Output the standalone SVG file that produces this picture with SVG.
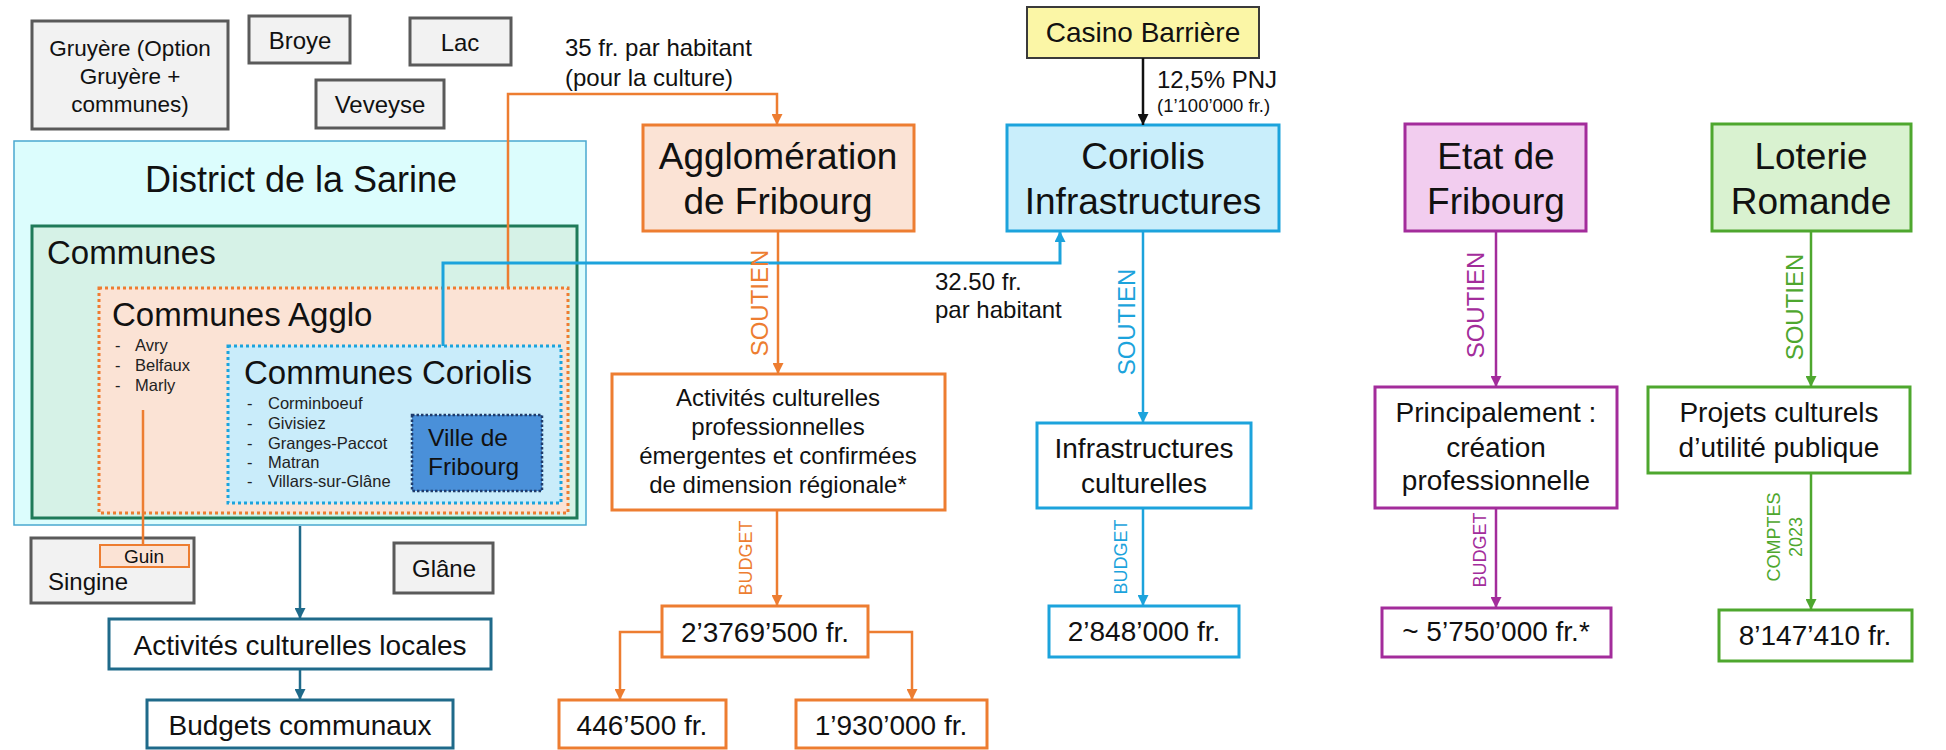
<svg xmlns="http://www.w3.org/2000/svg" width="1946" height="750" viewBox="0 0 1946 750">
<style>
text{font-family:"Liberation Sans",Arial,sans-serif;fill:#111}
.g{fill:#f2f2f2;stroke:#5a5a5a;stroke-width:3}
.c{text-anchor:middle}
.f24{font-size:24px}
.f28{font-size:28px}
.f37{font-size:37px}
.lst{font-size:16.5px;fill:#222}
.lbl{font-size:24px;text-anchor:middle}
.sm{font-size:18px;text-anchor:middle}
.or{fill:#ed7d31}.bl{fill:#1ca3dc}.pu{fill:#a32c9b}.gr{fill:#4ea72e}
.con path{fill:none}
</style>
<defs>
<marker id="aO" viewBox="0 0 10 10" refX="10" refY="5" markerWidth="11" markerHeight="11" markerUnits="userSpaceOnUse" orient="auto"><path d="M0,0L10,5L0,10z" fill="#ed7d31"/></marker>
<marker id="aB" viewBox="0 0 10 10" refX="10" refY="5" markerWidth="11" markerHeight="11" markerUnits="userSpaceOnUse" orient="auto"><path d="M0,0L10,5L0,10z" fill="#1ca3dc"/></marker>
<marker id="aT" viewBox="0 0 10 10" refX="10" refY="5" markerWidth="11" markerHeight="11" markerUnits="userSpaceOnUse" orient="auto"><path d="M0,0L10,5L0,10z" fill="#1f6a8a"/></marker>
<marker id="aK" viewBox="0 0 10 10" refX="10" refY="5" markerWidth="11" markerHeight="11" markerUnits="userSpaceOnUse" orient="auto"><path d="M0,0L10,5L0,10z" fill="#111"/></marker>
<marker id="aP" viewBox="0 0 10 10" refX="10" refY="5" markerWidth="11" markerHeight="11" markerUnits="userSpaceOnUse" orient="auto"><path d="M0,0L10,5L0,10z" fill="#a32c9b"/></marker>
<marker id="aG" viewBox="0 0 10 10" refX="10" refY="5" markerWidth="11" markerHeight="11" markerUnits="userSpaceOnUse" orient="auto"><path d="M0,0L10,5L0,10z" fill="#4ea72e"/></marker>
</defs>

<g id="gruyere"><rect class="g" x="32" y="21" width="196" height="108"/>
<text class="c" style="font-size:22.5px" x="130"><tspan x="130" y="56">Gruyère (Option</tspan><tspan x="130" y="84">Gruyère +</tspan><tspan x="130" y="112">communes)</tspan></text></g>
<g id="broye"><rect class="g" x="249" y="16" width="101" height="47"/><text class="c f24" x="300" y="49">Broye</text></g>
<g id="lac"><rect class="g" x="410" y="18" width="101" height="47"/><text class="c f24" x="460" y="51">Lac</text></g>
<g id="veveyse"><rect class="g" x="316" y="80" width="128" height="48"/><text class="c f24" x="380" y="113">Veveyse</text></g>

<g id="district"><rect x="14" y="141" width="572" height="384" fill="#dcfdfd" stroke="#4aa8cf" stroke-width="1.5"/>
<text class="c" style="font-size:36px" x="301" y="192">District de la Sarine</text></g>
<g id="communes"><rect x="32" y="226" width="545" height="292" fill="#d6f2e7" stroke="#1f7a59" stroke-width="3"/>
<text style="font-size:33px" x="47" y="264">Communes</text></g>
<g id="agglo-communes"><rect x="99" y="288" width="469" height="225" fill="#fbe3d5" stroke="#ed7d31" stroke-width="3" stroke-dasharray="3 3"/>
<text style="font-size:33px" x="112" y="326">Communes Agglo</text>
<text class="lst"><tspan x="115" y="351">-</tspan><tspan x="135" y="351">Avry</tspan><tspan x="115" y="371">-</tspan><tspan x="135" y="371">Belfaux</tspan><tspan x="115" y="391">-</tspan><tspan x="135" y="391">Marly</tspan></text></g>
<g id="coriolis-communes"><rect x="228" y="346" width="333" height="157" fill="#c9ecfa" stroke="#1ca3dc" stroke-width="3" stroke-dasharray="3 3"/>
<text style="font-size:33px" x="244" y="384">Communes Coriolis</text>
<text class="lst"><tspan x="247" y="409">-</tspan><tspan x="268" y="409">Corminboeuf</tspan><tspan x="247" y="429">-</tspan><tspan x="268" y="429">Givisiez</tspan><tspan x="247" y="449">-</tspan><tspan x="268" y="449">Granges-Paccot</tspan><tspan x="247" y="468">-</tspan><tspan x="268" y="468">Matran</tspan><tspan x="247" y="487">-</tspan><tspan x="268" y="487">Villars-sur-Glâne</tspan></text></g>
<g id="ville"><rect x="412" y="415" width="130" height="76" fill="#4a90d9" stroke="#1f3b6b" stroke-width="2.5" stroke-dasharray="2.5 2"/>
<text style="font-size:24.5px"><tspan x="428" y="446">Ville de</tspan><tspan x="428" y="475">Fribourg</tspan></text></g>

<g id="singine"><rect class="g" x="31" y="538" width="163" height="65"/><text class="f24" x="48" y="590">Singine</text></g>
<g id="guin"><rect x="100" y="545" width="89" height="22" fill="#fbe3d5" stroke="#ed7d31" stroke-width="2"/><text class="c" style="font-size:19px" x="144" y="563">Guin</text></g>
<g id="glane"><rect class="g" x="394" y="543" width="99" height="50"/><text class="c f24" x="444" y="577">Glâne</text></g>

<g id="act-locales"><rect x="109" y="619" width="382" height="50" fill="#fff" stroke="#1f6a8a" stroke-width="3"/><text class="c f28" x="300" y="655">Activités culturelles locales</text></g>
<g id="budgets-communaux"><rect x="147" y="700" width="306" height="48" fill="#fff" stroke="#1f6a8a" stroke-width="3"/><text class="c f28" x="300" y="735">Budgets communaux</text></g>

<g id="agglo"><rect x="643" y="125" width="271" height="106" fill="#fbe3d5" stroke="#ed7d31" stroke-width="3"/>
<text class="c f37"><tspan x="778" y="169">Agglomération</tspan><tspan x="778" y="214">de Fribourg</tspan></text></g>
<g id="act-pro"><rect x="612" y="374" width="333" height="136" fill="#fff" stroke="#ed7d31" stroke-width="3"/>
<text class="c f24"><tspan x="778" y="406">Activités culturelles</tspan><tspan x="778" y="435">professionnelles</tspan><tspan x="778" y="464">émergentes et confirmées</tspan><tspan x="778" y="493">de dimension régionale*</tspan></text></g>
<g id="budget-agglo"><rect x="662" y="606" width="206" height="51" fill="#fff" stroke="#ed7d31" stroke-width="3"/><text class="c f28" x="765" y="642">2’3769’500 fr.</text></g>
<g id="b446"><rect x="559" y="700" width="167" height="48" fill="#fff" stroke="#ed7d31" stroke-width="3"/><text class="c f28" x="642" y="735">446’500 fr.</text></g>
<g id="b1930"><rect x="796" y="700" width="191" height="48" fill="#fff" stroke="#ed7d31" stroke-width="3"/><text class="c f28" x="891" y="735">1’930’000 fr.</text></g>

<g id="casino"><rect x="1027" y="7" width="232" height="51" fill="#fbf6a6" stroke="#3a3a3a" stroke-width="2"/><text class="c f28" x="1143" y="42">Casino Barrière</text></g>
<g id="coriolis"><rect x="1007" y="125" width="272" height="106" fill="#c9eefb" stroke="#1ca3dc" stroke-width="3"/>
<text class="c f37"><tspan x="1143" y="169">Coriolis</tspan><tspan x="1143" y="214">Infrastructures</tspan></text></g>
<g id="infra"><rect x="1037" y="423" width="214" height="85" fill="#fff" stroke="#1ca3dc" stroke-width="3"/>
<text class="c f28"><tspan x="1144" y="458">Infrastructures</tspan><tspan x="1144" y="493">culturelles</tspan></text></g>
<g id="b2848"><rect x="1049" y="606" width="190" height="51" fill="#fff" stroke="#1ca3dc" stroke-width="3"/><text class="c f28" x="1144" y="641">2’848’000 fr.</text></g>

<g id="etat"><rect x="1405" y="124" width="181" height="107" fill="#f2cdef" stroke="#a32c9b" stroke-width="3"/>
<text class="c f37"><tspan x="1496" y="169">Etat de</tspan><tspan x="1496" y="214">Fribourg</tspan></text></g>
<g id="principalement"><rect x="1375" y="387" width="242" height="121" fill="#fff" stroke="#a32c9b" stroke-width="3"/>
<text class="c f28"><tspan x="1496" y="422">Principalement :</tspan><tspan x="1496" y="457">création</tspan><tspan x="1496" y="490">professionnelle</tspan></text></g>
<g id="b5750"><rect x="1382" y="608" width="229" height="49" fill="#fff" stroke="#a32c9b" stroke-width="3"/><text class="c f28" x="1496" y="641">~ 5’750’000 fr.*</text></g>

<g id="loterie"><rect x="1712" y="124" width="199" height="107" fill="#d9f2d0" stroke="#4ea72e" stroke-width="3"/>
<text class="c f37"><tspan x="1811" y="169">Loterie</tspan><tspan x="1811" y="214">Romande</tspan></text></g>
<g id="projets"><rect x="1648" y="387" width="262" height="86" fill="#fff" stroke="#4ea72e" stroke-width="3"/>
<text class="c f28"><tspan x="1779" y="422">Projets culturels</tspan><tspan x="1779" y="457">d’utilité publique</tspan></text></g>
<g id="b8147"><rect x="1719" y="610" width="193" height="51" fill="#fff" stroke="#4ea72e" stroke-width="3"/><text class="c f28" x="1815" y="645">8’147’410 fr.</text></g>

<g id="connectors" class="con">
<path d="M143,410V545" stroke="#ed7d31" stroke-width="2.5"/>
<path d="M508,288V94H777V125" stroke="#ed7d31" stroke-width="2.5" marker-end="url(#aO)"/>
<path d="M778,231V374" stroke="#ed7d31" stroke-width="2.5" marker-end="url(#aO)"/>
<path d="M777,510V606" stroke="#ed7d31" stroke-width="2.5" marker-end="url(#aO)"/>
<path d="M662,632H620V700" stroke="#ed7d31" stroke-width="2.5" marker-end="url(#aO)"/>
<path d="M868,632H912V700" stroke="#ed7d31" stroke-width="2.5" marker-end="url(#aO)"/>
<path d="M443,346V263H1060V231" stroke="#1ca3dc" stroke-width="3" marker-end="url(#aB)"/>
<path d="M1143,231V423" stroke="#1ca3dc" stroke-width="2.5" marker-end="url(#aB)"/>
<path d="M1143,508V606" stroke="#1ca3dc" stroke-width="2.5" marker-end="url(#aB)"/>
<path d="M1143,58V125" stroke="#111" stroke-width="2.5" marker-end="url(#aK)"/>
<path d="M300,526V619" stroke="#1f6a8a" stroke-width="2.5" marker-end="url(#aT)"/>
<path d="M300,669V700" stroke="#1f6a8a" stroke-width="2.5" marker-end="url(#aT)"/>
<path d="M1496,231V387" stroke="#a32c9b" stroke-width="2.5" marker-end="url(#aP)"/>
<path d="M1496,508V608" stroke="#a32c9b" stroke-width="2.5" marker-end="url(#aP)"/>
<path d="M1811,231V387" stroke="#4ea72e" stroke-width="2.5" marker-end="url(#aG)"/>
<path d="M1811,473V610" stroke="#4ea72e" stroke-width="2.5" marker-end="url(#aG)"/>
<text class="f24"><tspan x="565" y="56">35 fr. par habitant</tspan><tspan x="565" y="86">(pour la culture)</tspan></text>
<text class="f24"><tspan x="935" y="290">32.50 fr.</tspan><tspan x="935" y="318">par habitant</tspan></text>
<text class="f24" x="1157" y="88">12,5% PNJ</text>
<text style="font-size:18.5px" x="1157" y="112">(1’100’000 fr.)</text>
<text class="lbl or" transform="translate(768,303) rotate(-90)">SOUTIEN</text>
<text class="lbl bl" transform="translate(1135,322) rotate(-90)">SOUTIEN</text>
<text class="lbl pu" transform="translate(1484,305) rotate(-90)">SOUTIEN</text>
<text class="lbl gr" transform="translate(1803,307) rotate(-90)">SOUTIEN</text>
<text class="sm or" transform="translate(752,558) rotate(-90)">BUDGET</text>
<text class="sm bl" transform="translate(1127,557) rotate(-90)">BUDGET</text>
<text class="sm pu" transform="translate(1486,550) rotate(-90)">BUDGET</text>
<text class="sm gr" transform="translate(1780,537) rotate(-90)">COMPTES</text>
<text class="sm gr" transform="translate(1802,537) rotate(-90)">2023</text>
</g>
</svg>
